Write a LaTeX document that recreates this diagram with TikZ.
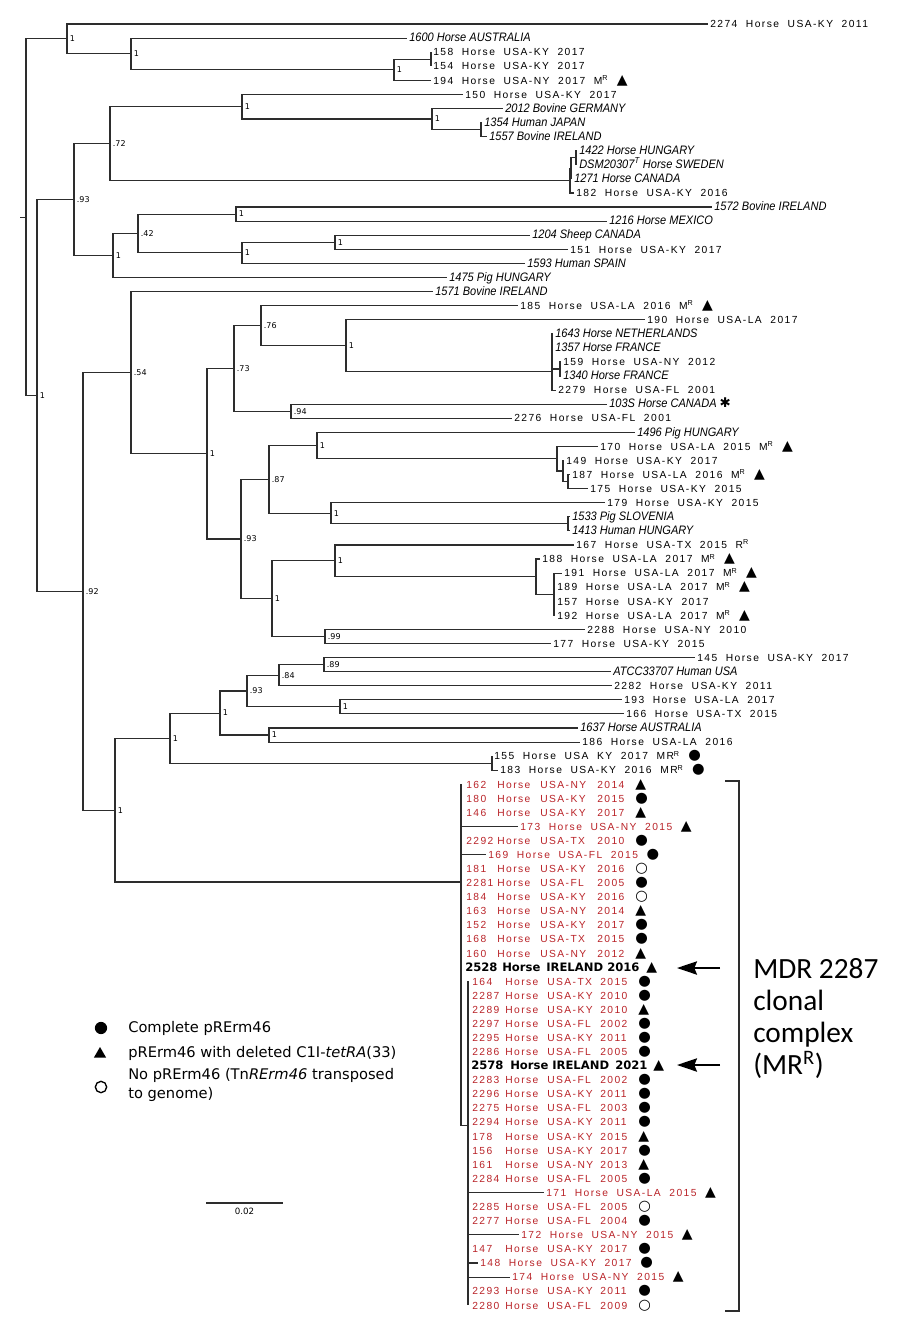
\documentclass[tikz,border=0pt]{standalone}
\usepackage{fontspec}
\setmainfont{Liberation Sans}
\newfontfamily\trf[LetterSpace=14,WordSpace=2]{Liberation Sans}
\newfontfamily\itf[FakeStretch=0.9]{Liberation Sans}
\newfontfamily\dvf{DejaVu Sans}
\newfontfamily\clf{Carlito}
\usetikzlibrary{arrows.meta,shapes.geometric}
\definecolor{clred}{RGB}{185,35,40}
\definecolor{brgray}{RGB}{45,45,45}
% row number -> y in px
\newcommand\rowy[1]{24+14.08*#1}
\newcommand\itl{\itf\itshape\fontsize{9.2}{10}\selectfont}
\newcommand\fulltri{{\color{black}\dvf\fontsize{10.5}{10}\selectfont ▲}}
\newcommand\fullcirc{{\color{black}\dvf\fontsize{10.8}{10}\selectfont ●}}
\newcommand\opencirc{{\color{black}\dvf\fontsize{10.8}{10}\selectfont ○}}
\newcommand\heavyast{{\dvf\fontsize{10}{10}\selectfont ✱}}
\newcommand\rowA[4]{\makebox[23.25pt][l]{#1}\makebox[32.25pt][l]{Horse}\makebox[42.75pt][l]{#2}\makebox[28.5pt][l]{#3}#4}
\newcommand\rowB[4]{\makebox[24.75pt][l]{#1}\makebox[31.5pt][l]{Horse}\makebox[39.75pt][l]{#2}\makebox[28.5pt][l]{#3}#4}
\tikzset{
  br/.style={brgray,line width=0.85pt},
  boot/.style={anchor=west,inner sep=0pt,xshift=2pt,font=\dvf\fontsize{6}{7}\selectfont},
  lab/.style={anchor=base west,inner sep=0pt,xshift=1.5pt,yshift=-2.8pt,font=\trf\fontsize{7.7}{9}\selectfont},
  clab/.style={lab,text=clred},
  boldlab/.style={lab,font=\dvf\bfseries\fontsize{8.7}{10}\selectfont},
  legtext/.style={inner sep=0pt,font=\dvf\fontsize{11}{14.25}\selectfont},
  bigarr/.style={-{Stealth[length=15pt,width=10pt,inset=2pt]},line width=1.4pt},
}
\begin{document}
\begin{tikzpicture}[x=0.75pt,y=-0.75pt]
\useasboundingbox (0,0) rectangle (900,1331);
% inner nodes with support values
\foreach \n/\x/\r/\b in {A/67/1.06/1, C/131/2.125/1, D/394/3.25/1, I/242/5.875/1, K/432/6.75/1,
  G/110/8.5/.72, F/74/12.47/.93, O/236/13.5/1, N/138/14.875/.42, Q/335/15.5/1, P/242/16.25/1,
  H/113/16.44/1, B/37/26.38/1, S/131/24.76/.54, X/261/21.43/.76, Z/346/22.85/1, V/234/24.46/.73,
  Y/291/27.5/.94, U/207/30.52/1, AE/317/29.94/1, AC/269/32.34/.87, AF/331/34.75/1, W/241/36.58/.93,
  AK/335/38.125/1, AD/272/40.81/1, AN/325/43.5/.99, R/83/40.3/.92, AV/324/45.5/.89, AT/279/46.25/.84,
  AR/247/47.375/.93, AU/340/48.5/1, AS/269/50.5/1, AP/220/48.94/1, AO/170/50.72/1, T/115/55.83/1}
{\coordinate (\n) at (\x,{\rowy{\r}}); \node[boot] (b\n) at (\n) {\b};}
% inner nodes without value
\foreach \n/\x/\r in {root/26/13.72, E/431/2.5, L/481/7.5, J/570/11.125, N2/571/10.25, M/576/9.5,
  AA/552/24.7, AB/560/24.5, AG/557/30.875, AH/563/31.75, AI/568/32.5, AJ/568/35.5, AL/536/39.25,
  AM/554/40.5, AQ/492/52.5, CL/461/60.94, CM/468/78.2}
{\coordinate (\n) at (\x,{\rowy{\r}});}
\coordinate (stub) at (20,{\rowy{13.72}});
% tips
\foreach \n/\x/\i/\txt in {
  2274/708/0/{2274 Horse USA-KY 2011},
  1600/407/1/{\itl 1600 Horse AUSTRALIA},
  158/431/2/{158 Horse USA-KY 2017},
  154/431/3/{154 Horse USA-KY 2017},
  194/431/4/{194 Horse USA-NY 2017 M\textsuperscript{R} \fulltri},
  150/463/5/{150 Horse USA-KY 2017},
  2012/503/6/{\itl 2012 Bovine GERMANY},
  1354/482/7/{\itl 1354 Human JAPAN},
  1557/487/8/{\itl 1557 Bovine IRELAND},
  1422/577/9/{\itl 1422 Horse HUNGARY},
  DSM/577/10/{\itl DSM20307\textsuperscript{T} Horse SWEDEN},
  1271/572/11/{\itl 1271 Horse CANADA},
  182/574/12/{182 Horse USA-KY 2016},
  1572/712/13/{\itl 1572 Bovine IRELAND},
  1216/607/14/{\itl 1216 Horse MEXICO},
  1204/530/15/{\itl 1204 Sheep CANADA},
  151/568/16/{151 Horse USA-KY 2017},
  1593/525/17/{\itl 1593 Human SPAIN},
  1475/447/18/{\itl 1475 Pig HUNGARY},
  1571/433/19/{\itl 1571 Bovine IRELAND},
  185/518/20/{185 Horse USA-LA 2016 M\textsuperscript{R} \fulltri},
  190/645/21/{190 Horse USA-LA 2017},
  1643/553/22/{\itl 1643 Horse NETHERLANDS},
  1357/553/23/{\itl 1357 Horse FRANCE},
  159/561/24/{159 Horse USA-NY 2012},
  1340/561/25/{\itl 1340 Horse FRANCE},
  2279/556/26/{2279 Horse USA-FL 2001},
  103S/607/27/{\itl 103S Horse CANADA \heavyast},
  2276/512/28/{2276 Horse USA-FL 2001},
  1496/635/29/{\itl 1496 Pig HUNGARY},
  170/598/30/{170 Horse USA-LA 2015 M\textsuperscript{R} \fulltri},
  149/564/31/{149 Horse USA-KY 2017},
  187/570/32/{187 Horse USA-LA 2016 M\textsuperscript{R} \fulltri},
  175/588/33/{175 Horse USA-KY 2015},
  179/605/34/{179 Horse USA-KY 2015},
  1533/570/35/{\itl 1533 Pig SLOVENIA},
  1413/570/36/{\itl 1413 Human HUNGARY},
  167/574/37/{167 Horse USA-TX 2015 R\textsuperscript{R}},
  188/540/38/{188 Horse USA-LA 2017 M\textsuperscript{R} \fulltri},
  191/562/39/{191 Horse USA-LA 2017 M\textsuperscript{R} \fulltri},
  189/555/40/{189 Horse USA-LA 2017 M\textsuperscript{R} \fulltri},
  157/555/41/{157 Horse USA-KY 2017},
  192/555/42/{192 Horse USA-LA 2017 M\textsuperscript{R} \fulltri},
  2288/585/43/{2288 Horse USA-NY 2010},
  177/551/44/{177 Horse USA-KY 2015},
  145/695/45/{145 Horse USA-KY 2017},
  ATCC/611/46/{\itl ATCC33707 Human USA},
  2282/612/47/{2282 Horse USA-KY 2011},
  193/622/48/{193 Horse USA-LA 2017},
  166/624/49/{166 Horse USA-TX 2015},
  1637/578/50/{\itl 1637 Horse AUSTRALIA},
  186/580/51/{186 Horse USA-LA 2016},
  155/492/52/{155 Horse USA KY 2017 MR\textsuperscript{R} \fullcirc},
  183/498/53/{183 Horse USA-KY 2016 MR\textsuperscript{R} \fullcirc}}
{\coordinate (t\n) at (\x,{\rowy{\i}}); \node[lab] (l\n) at (t\n) {\txt};}
% clonal complex tips
\foreach \n/\i/\st/\yr/\mk in {162/54/USA-NY/2014/\fulltri, 180/55/USA-KY/2015/\fullcirc,
  146/56/USA-KY/2017/\fulltri, 2292/58/USA-TX/2010/\fullcirc, 181/60/USA-KY/2016/\opencirc,
  2281/61/USA-FL/2005/\fullcirc, 184/62/USA-KY/2016/\opencirc, 163/63/USA-NY/2014/\fulltri,
  152/64/USA-KY/2017/\fullcirc, 168/65/USA-TX/2015/\fullcirc, 160/66/USA-NY/2012/\fulltri}
{\coordinate (c\n) at (461,{\rowy{\i}}); \node[clab,xshift=2.25pt] (l\n) at (c\n) {\rowA{\n}{\st}{\yr}{\mk}};}
\foreach \n/\i/\st/\yr/\mk in {164/68/USA-TX/2015/\fullcirc, 2287/69/USA-KY/2010/\fullcirc,
  2289/70/USA-KY/2010/\fulltri, 2297/71/USA-FL/2002/\fullcirc, 2295/72/USA-KY/2011/\fullcirc,
  2286/73/USA-FL/2005/\fullcirc, 2283/75/USA-FL/2002/\fullcirc, 2296/76/USA-KY/2011/\fullcirc,
  2275/77/USA-FL/2003/\fullcirc, 2294/78/USA-KY/2011/\fullcirc, 178/79/USA-KY/2015/\fulltri,
  156/80/USA-KY/2017/\fullcirc, 161/81/USA-NY/2013/\fulltri, 2284/82/USA-FL/2005/\fullcirc,
  2285/84/USA-FL/2005/\opencirc, 2277/85/USA-FL/2004/\fullcirc, 147/87/USA-KY/2017/\fullcirc,
  2293/90/USA-KY/2011/\fullcirc, 2280/91/USA-FL/2009/\opencirc}
{\coordinate (c\n) at (468,{\rowy{\i}}); \node[clab,xshift=1.5pt] (l\n) at (c\n) {\rowB{\n}{\st}{\yr}{\mk}};}
\foreach \n/\x/\i/\txt in {173/518/57/{173 Horse USA-NY 2015 \fulltri},
  169/486/59/{169 Horse USA-FL 2015 \fullcirc}, 171/544/83/{171 Horse USA-LA 2015 \fulltri},
  172/519/86/{172 Horse USA-NY 2015 \fulltri}, 148/478/88/{148 Horse USA-KY 2017 \fullcirc},
  174/510/89/{174 Horse USA-NY 2015 \fulltri}}
{\coordinate (c\n) at (\x,{\rowy{\i}}); \node[clab] (l\n) at (c\n) {\txt};}
\coordinate (c2528) at (461,{\rowy{67}});
\node[boldlab,xshift=1.5pt] (l2528) at (c2528) {\makebox[27.75pt][l]{2528}\makebox[33pt][l]{Horse}\makebox[45.75pt][l]{IRELAND}\makebox[29.25pt][l]{2016}\fulltri};
\coordinate (c2578) at (468,{\rowy{74}});
\node[boldlab,xshift=0.75pt] (l2578) at (c2578) {\makebox[29.25pt][l]{2578}\makebox[31.5pt][l]{Horse}\makebox[47.25pt][l]{IRELAND}\makebox[28.5pt][l]{2021}\fulltri};
% branches
\draw[br] (stub) -- (root);
\foreach \p/\c in {root/A, root/B, A/t2274, A/C, C/t1600, C/D, D/E, D/t194, E/t158, E/t154,
  B/F, B/R, F/G, F/H, G/I, G/J, I/t150, I/K, K/t2012, K/L, L/t1354, L/t1557, J/N2, J/t182,
  N2/M, N2/t1271, M/t1422, M/tDSM, H/N, H/t1475, N/O, N/P, O/t1572, O/t1216, P/Q, P/t1593,
  Q/t1204, Q/t151, R/S, R/T, S/t1571, S/U, U/V, U/W, V/X, V/Y, X/t185, X/Z, Z/t190, Z/AA,
  AA/t1643, AA/t1357, AA/AB, AA/t2279, AB/t159, AB/t1340, Y/t103S, Y/t2276, W/AC, W/AD,
  AC/AE, AC/AF, AE/t1496, AE/AG, AG/t170, AG/AH, AH/t149, AH/AI, AI/t187, AI/t175, AF/t179,
  AF/AJ, AJ/t1533, AJ/t1413, AD/AK, AD/AN, AK/t167, AK/AL, AL/t188, AL/AM, AM/t191, AM/t189,
  AM/t157, AM/t192, AN/t2288, AN/t177, T/AO, T/CL, AO/AP, AO/AQ, AP/AR, AP/AS, AR/AT, AR/AU,
  AT/AV, AT/t2282, AV/t145, AV/tATCC, AU/t193, AU/t166, AS/t1637, AS/t186, AQ/t155, AQ/t183, CL/CM}
  \draw[br] (\p) |- (\c);
\foreach \c in {162,180,146,173,2292,169,181,2281,184,163,152,168,160,2528}
  \draw[br] (CL) |- (c\c);
\foreach \c in {164,2287,2289,2297,2295,2286,2578,2283,2296,2275,2294,178,156,161,2284,171,
  2285,2277,172,147,148,174,2293,2280}
  \draw[br] (CM) |- (c\c);
% bracket, arrows and caption of the complex
\coordinate (bk1) at (725,781); \coordinate (bk2) at (739,781);
\coordinate (bk3) at (739,1311); \coordinate (bk4) at (725,1311);
\draw[br,line width=1pt] (bk1) -- (bk2) -- (bk3) -- (bk4);
\coordinate (ar1) at (720,968); \coordinate (ar1t) at (677,968);
\coordinate (ar2) at (720,1065); \coordinate (ar2t) at (677,1065);
\draw[bigarr] (ar1) -- (ar1t);
\draw[bigarr] (ar2) -- (ar2t);
\node[anchor=north west,inner sep=0pt,align=left,font=\clf\fontsize{22}{24}\selectfont] (mdr) at (753,958)
  {MDR 2287\\clonal\\complex\\(MR\textsuperscript{R})};
% legend
\node[circle,fill,inner sep=0pt,minimum size=9.2pt] (k1) at (101,1028) {};
\node[regular polygon,regular polygon sides=3,fill,inner sep=0pt,minimum size=10.5pt] (k2) at (100,1054) {};
\node[circle,draw,line width=1pt,inner sep=0pt,minimum size=8.5pt] (k3) at (101,1087) {};
\node[legtext,anchor=base west] (key1) at (128,1032) {Complete pRErm46};
\node[legtext,anchor=base west] (key2) at (128,1057) {pRErm46 with deleted C1I-\textit{tetRA}(33)};
\node[legtext,anchor=north west,align=left] (key3) at (128,1068) {No pRErm46 (Tn\textit{RErm46} transposed\\to genome)};
% scale bar
\coordinate (sb1) at (206,1203); \coordinate (sb2) at (283,1203);
\draw[br] (sb1) -- (sb2);
\node[anchor=north,inner sep=0pt,font=\dvf\fontsize{6.5}{7}\selectfont] (sbl) at (244.5,1208) {0.02};
\end{tikzpicture}
\end{document}
